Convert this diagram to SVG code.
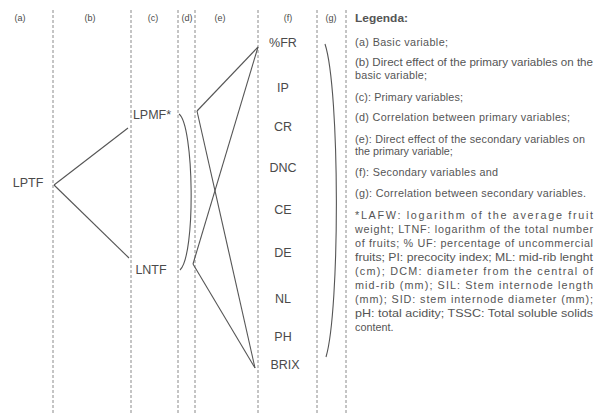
<svg xmlns="http://www.w3.org/2000/svg" width="598" height="413" viewBox="0 0 598 413">
<style>
text{font-family:"Liberation Sans",Arial,sans-serif;fill:#4a4a4a}
.hd{font-size:9px;text-anchor:middle}
.nd{font-size:12.5px;text-anchor:middle}
.lg{font-size:10.8px;fill:#555}
.dash{stroke:#8a8a8a;stroke-width:1;stroke-dasharray:3,2;fill:none}
.ln{stroke:#555;stroke-width:1.1;fill:none}
</style>
<rect width="598" height="413" fill="#fff"/>
<g id="grid">
<line class="dash" x1="53" y1="10" x2="53" y2="413"/>
<line class="dash" x1="131" y1="10" x2="131" y2="413"/>
<line class="dash" x1="178" y1="10" x2="178" y2="413"/>
<line class="dash" x1="195" y1="10" x2="195" y2="413"/>
<line class="dash" x1="258" y1="10" x2="258" y2="413"/>
<line class="dash" x1="317" y1="10" x2="317" y2="413"/>
<line class="dash" x1="346" y1="10" x2="346" y2="413"/>
</g>
<g id="headers">
<text class="hd" x="20" y="21">(a)</text>
<text class="hd" x="90" y="21">(b)</text>
<text class="hd" x="153" y="21">(c)</text>
<text class="hd" x="187" y="21">(d)</text>
<text class="hd" x="220" y="21">(e)</text>
<text class="hd" x="288" y="21">(f)</text>
<text class="hd" x="331" y="21">(g)</text>
</g>
<g id="connectors">
<line class="ln" x1="54" y1="185" x2="128" y2="128"/>
<line class="ln" x1="54" y1="185" x2="129" y2="258"/>
<path class="ln" d="M179,114 C194,125 196,255 180,270"/>
<line class="ln" x1="197" y1="111" x2="258" y2="47"/>
<line class="ln" x1="197" y1="111" x2="255" y2="368"/>
<line class="ln" x1="193" y1="264" x2="258" y2="47"/>
<line class="ln" x1="193" y1="264" x2="255" y2="368"/>
<path class="ln" d="M325,44 C340,90 340,310 326,357"/>
</g>
<g id="LPTF"><text class="nd" x="28" y="187">LPTF</text></g>
<g id="LPMF"><text class="nd" x="152" y="119">LPMF*</text></g>
<g id="LNTF"><text class="nd" x="151" y="274">LNTF</text></g>
<g id="FR"><text class="nd" x="283" y="47">%FR</text></g>
<g id="IP"><text class="nd" x="283" y="92">IP</text></g>
<g id="CR"><text class="nd" x="283" y="131">CR</text></g>
<g id="DNC"><text class="nd" x="283" y="172">DNC</text></g>
<g id="CE"><text class="nd" x="283" y="214">CE</text></g>
<g id="DE"><text class="nd" x="283" y="257">DE</text></g>
<g id="NL"><text class="nd" x="283" y="303">NL</text></g>
<g id="PH"><text class="nd" x="283" y="341">PH</text></g>
<g id="BRIX"><text class="nd" x="285" y="369">BRIX</text></g>
<g id="legend">
<text class="lg" x="355" y="22" font-weight="bold" textLength="53" lengthAdjust="spacingAndGlyphs">Legenda:</text>
<text class="lg" x="355" y="46" textLength="93" lengthAdjust="spacing">(a) Basic variable;</text>
<text class="lg" x="355" y="66" textLength="238" lengthAdjust="spacingAndGlyphs">(b) Direct effect of the primary variables on the</text>
<text class="lg" x="355" y="79" textLength="72" lengthAdjust="spacing">basic variable;</text>
<text class="lg" x="355" y="101" textLength="108" lengthAdjust="spacing">(c): Primary variables;</text>
<text class="lg" x="355" y="121" textLength="215" lengthAdjust="spacing">(d) Correlation between primary variables;</text>
<text class="lg" x="355" y="143" textLength="230" lengthAdjust="spacing">(e): Direct effect of the secondary variables on</text>
<text class="lg" x="355" y="155">the primary variable;</text>
<text class="lg" x="355" y="176" textLength="143" lengthAdjust="spacing">(f): Secondary variables and</text>
<text class="lg" x="355" y="197" textLength="231" lengthAdjust="spacing">(g): Correlation between secondary variables.</text>
<text class="lg" x="355" y="219" textLength="238" lengthAdjust="spacing">*LAFW: logarithm of the average fruit</text>
<text class="lg" x="355" y="233" textLength="238" lengthAdjust="spacing">weight; LTNF: logarithm of the total number</text>
<text class="lg" x="355" y="247" textLength="238" lengthAdjust="spacing">of fruits; % UF: percentage of uncommercial</text>
<text class="lg" x="355" y="261" textLength="238" lengthAdjust="spacingAndGlyphs">fruits; PI: precocity index; ML: mid-rib lenght</text>
<text class="lg" x="355" y="275" textLength="238" lengthAdjust="spacing">(cm); DCM: diameter from the central of</text>
<text class="lg" x="355" y="289" textLength="238" lengthAdjust="spacing">mid-rib (mm); SIL: Stem internode length</text>
<text class="lg" x="355" y="303" textLength="238" lengthAdjust="spacing">(mm); SID: stem internode diameter (mm);</text>
<text class="lg" x="355" y="317" textLength="238" lengthAdjust="spacingAndGlyphs">pH: total acidity; TSSC: Total soluble solids</text>
<text class="lg" x="355" y="331">content.</text>
</g>
</svg>
